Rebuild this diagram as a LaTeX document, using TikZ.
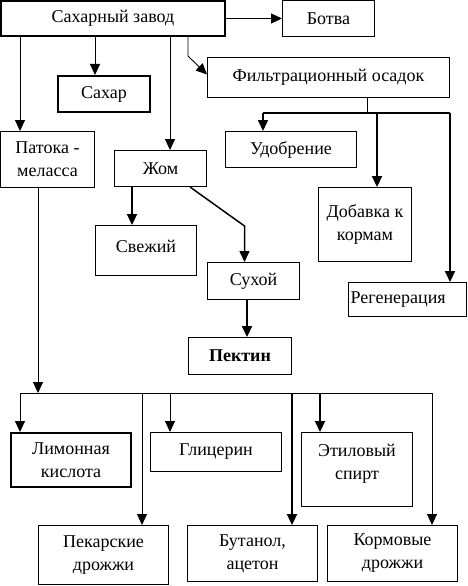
\documentclass[tikz,border=0pt]{standalone}
\usepackage{fontspec}
\setmainfont{Liberation Serif}
\usetikzlibrary{arrows.meta}

\tikzset{
  box/.style={draw, line width=1.4pt, inner sep=2pt, align=center, font=\fontsize{18}{23}\selectfont},
  boldbox/.style={box, line width=2.4pt},
  ln/.style={line width=0.9pt},
  md/.style={line width=1.5pt},
  tk/.style={line width=2.2pt},
}

\begin{document}
\begin{tikzpicture}[x=1pt, y=-1pt, >={Triangle[length=11pt,width=10pt]}]
  \useasboundingbox (0,0) rectangle (467,586);
  % ---------------------------------------------------------------- factory and its products
  \node[boldbox, minimum width=223.6pt, minimum height=34.6pt] (zavod) at (113,18.5) {Сахарный завод};
  \node[box, minimum width=91.6pt, minimum height=35.6pt] (botva) at (328.5,18.5) {Ботва};
  \node[boldbox, minimum width=91.6pt, minimum height=35.6pt] (sahar) at (104,94) {Сахар};
  \node[box, minimum width=241.6pt, minimum height=39.6pt] (filtr) at (328.5,77.5) {Фильтрационный осадок};
  \node[box, minimum width=93.6pt, minimum height=55.6pt] (patoka) at (47.5,159.5) {Патока -\\меласса};
  \node[box, minimum width=91.6pt, minimum height=35.6pt] (zhom) at (160.5,168.5) {Жом};
  \draw[ln,->] (zavod.east) -- (botva.west);
  \draw[ln,->] ([xshift=-9pt]sahar.north |- zavod.south) -- ([xshift=-9pt]sahar.north);
  \draw[ln,->] ([xshift=-27.5pt]patoka.north |- zavod.south) -- ([xshift=-27.5pt]patoka.north);
  \draw[ln,->] ([xshift=9.5pt]zhom.north |- zavod.south) -- ([xshift=9.5pt]zhom.north);
  \draw[ln,->] ([xshift=-19pt]filtr.west |- zavod.south) -- ++(0,19) -- ([yshift=3pt]filtr.west);
  % ---------------------------------------------------------------- filter cake
  \node[box, minimum width=130.6pt, minimum height=35.6pt] (udobr) at (291,149.5) {Удобрение};
  \node[box, minimum width=92.6pt, minimum height=73.6pt, inner ysep=16.8pt] (dobavka) at (365,224.5)
    {\parbox[c][40pt][t]{88pt}{\centering Добавка к\\кормам}};
  \node[box, text width=113.6pt, align=left, minimum height=33.6pt] (regen) at (407.5,299.5) {Регенерация};
  \coordinate (fbus) at ([xshift=38.5pt,yshift=-15pt]filtr.south);
  \draw[ln] ([xshift=38.5pt]filtr.south) -- (fbus);
  \draw[tk] ([xshift=-28pt]udobr.north |- fbus) -- ([xshift=42.5pt]regen.north |- fbus);
  \foreach \n/\dx/\w in {udobr/-28/md, dobavka/12/tk, regen/42.5/tk}
    \draw[\w,->] ([xshift=\dx pt]\n.north |- fbus) -- ([xshift=\dx pt]\n.north);
  % ---------------------------------------------------------------- pulp
  \node[box, minimum width=100.6pt, minimum height=49.6pt, text height=13pt, text depth=10pt] (svezh) at (146,250.5) {Свежий};
  \node[box, minimum width=91.6pt, minimum height=36.6pt] (suhoy) at (253.5,281) {Сухой};
  \node[box, minimum width=102.6pt, minimum height=36.6pt, font=\fontsize{18}{23}\selectfont\bfseries] (pektin) at (240,356) {Пектин};
  \draw[tk,->] ([xshift=-14pt]svezh.north |- zhom.south) -- ([xshift=-14pt]svezh.north);
  \draw[md,->] ([xshift=29.5pt]zhom.south) -- ([xshift=-9pt,yshift=36pt]suhoy.north) -- ([xshift=-9pt]suhoy.north);
  \draw[tk,->] ([xshift=-6.5pt]suhoy.south) -- ([xshift=-6.5pt]suhoy.south |- pektin.north);
  % ---------------------------------------------------------------- molasses
  \node[boldbox, minimum width=119.6pt, minimum height=53.6pt] (limon) at (71,460) {Лимонная\\кислота};
  \node[box, minimum width=130.6pt, minimum height=38.6pt] (glic) at (216,452) {Глицерин};
  \node[box, minimum width=110.6pt, minimum height=73.6pt, inner ysep=11.8pt] (etil) at (357,469.5)
    {\parbox[c][50pt][t]{104pt}{\centering Этиловый\\спирт}};
  \node[box, minimum width=129.6pt, minimum height=58.6pt] (pekar) at (103.5,555) {Пекарские\\дрожжи};
  \node[box, minimum width=129.6pt, minimum height=55.6pt] (butanol) at (252.5,553.5) {Бутанол,\\ацетон};
  \node[box, minimum width=129.6pt, minimum height=55.6pt] (korm) at (392.5,553.5) {Кормовые\\дрожжи};
  \coordinate (bus) at ([yshift=39pt]limon.north);
  \draw[ln,->] ([xshift=-9.5pt]patoka.south) -- ([xshift=-9.5pt]patoka.south |- bus);
  \draw[ln] ([xshift=-51pt]limon.north |- bus) -- ([xshift=39.5pt]korm.north |- bus);
  \foreach \n/\dx/\w in {limon/-51/ln, pekar/38.5/ln, glic/-46/ln, butanol/39.5/tk, etil/-37/tk, korm/39.5/ln}
    \draw[\w,->] ([xshift=\dx pt]\n.north |- bus) -- ([xshift=\dx pt]\n.north);
\end{tikzpicture}
\end{document}
